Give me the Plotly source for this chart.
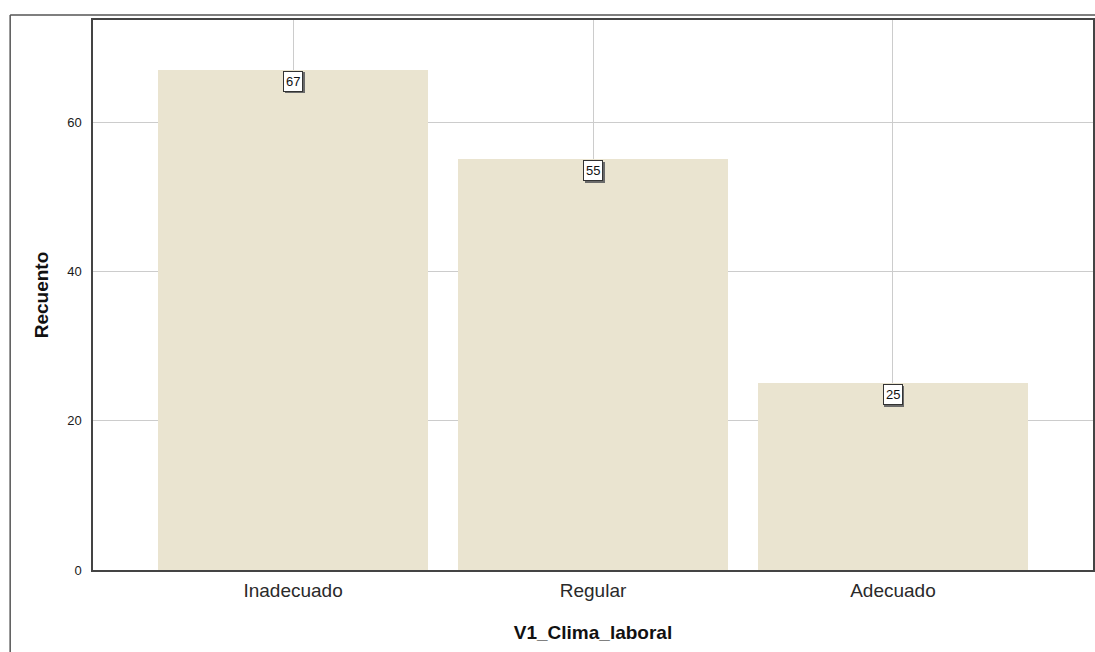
import plotly.graph_objects as go

categories = ["Inadecuado", "Regular", "Adecuado"]
counts = [67, 55, 25]
y_ticks = [0, 20, 40, 60]

W, H = 1095, 652
L, R, T, B = 93, 0, 20, 82
pw = W - L - R
ph = H - T - B

bar_color = "#EAE4D0"
font_family = "Liberation Sans, Arial, sans-serif"

fig = go.Figure()
fig.add_trace(go.Bar(
    x=list(range(len(categories))),
    y=counts,
    width=0.9,
    marker=dict(color=bar_color, line=dict(width=0)),
    hoverinfo="skip",
))

annotations = []
for i, v in enumerate(counts):
    # shadow
    annotations.append(dict(
        x=i, y=v, xref="x", yref="y", text=str(v), showarrow=False,
        yanchor="top", xshift=1.5, yshift=-2.5,
        font=dict(family=font_family, size=13, color="rgba(0,0,0,0)"),
        bgcolor="#6a6a6a", bordercolor="#6a6a6a", borderwidth=1, borderpad=2,
    ))
    annotations.append(dict(
        x=i, y=v, xref="x", yref="y", text=str(v), showarrow=False,
        yanchor="top", yshift=-1,
        font=dict(family=font_family, size=13, color="#111111"),
        bgcolor="white", bordercolor="#333333", borderwidth=1, borderpad=2,
    ))

# outer frame (cut off on right/bottom)
x_left = (10 - L) / pw
y_top = (H - B - 15) / ph
shapes = [
    dict(type="line", xref="paper", yref="paper", x0=x_left, x1=1.2, y0=y_top, y1=y_top,
         line=dict(color="#555555", width=1.5)),
    dict(type="line", xref="paper", yref="paper", x0=x_left, x1=x_left, y0=y_top, y1=-0.3,
         line=dict(color="#555555", width=1.5)),
]

fig.update_layout(
    width=W, height=H,
    margin=dict(l=L, r=R, t=T, b=B),
    paper_bgcolor="white", plot_bgcolor="white",
    showlegend=False,
    font=dict(family=font_family, color="#1a1a1a"),
    annotations=annotations,
    shapes=shapes,
    bargap=0,
)
fig.update_xaxes(
    range=[-0.667, 2.667],
    tickvals=list(range(len(categories))),
    ticktext=categories,
    tickfont=dict(size=19, color="#2a2a2a"),
    showgrid=True, gridcolor="#cccccc", gridwidth=1,
    showline=True, linecolor="#444444", linewidth=1.5, mirror=True,
    ticks="outside", ticklen=2, tickcolor="rgba(0,0,0,0)",
    title=dict(text="<b>V1_Clima_laboral</b>", font=dict(size=19, color="#111111"), standoff=26),
    zeroline=False,
)
fig.update_yaxes(
    range=[0, 73.66],
    tickvals=y_ticks,
    tickfont=dict(size=13, color="#1a1a1a"),
    showgrid=True, gridcolor="#cccccc", gridwidth=1,
    showline=True, linecolor="#444444", linewidth=1.5, mirror=True,
    ticks="outside", ticklen=7, tickcolor="rgba(0,0,0,0)",
    title=dict(text="<b>Recuento</b>", font=dict(size=19, color="#111111"), standoff=14),
    zeroline=False,
)

fig.write_html("out.html")
